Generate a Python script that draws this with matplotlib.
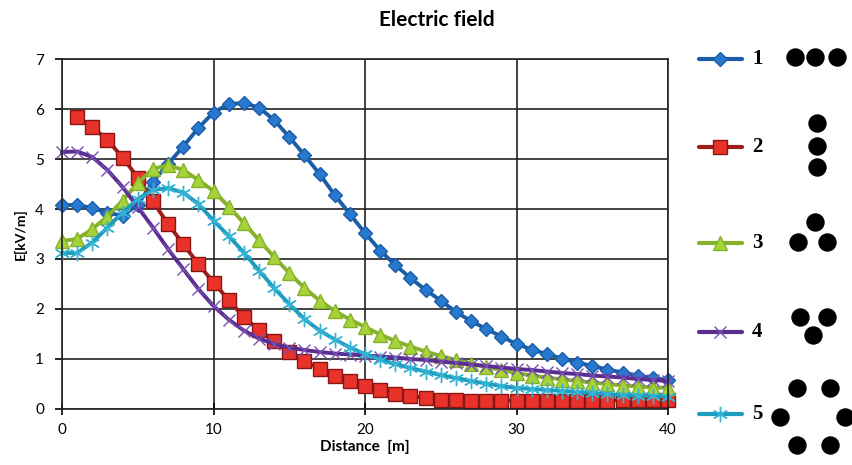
import numpy as np
import matplotlib
matplotlib.use("Agg")
import matplotlib.pyplot as plt

distance = list(range(0, 41))
distance_2 = list(range(1, 41))

series_1 = [4.08, 4.08, 4.02, 3.92, 3.87, 4.08, 4.55, 4.90, 5.25, 5.62, 5.93, 6.10, 6.12, 6.03,
            5.78, 5.44, 5.08, 4.70, 4.28, 3.90, 3.52, 3.17, 2.88, 2.62, 2.38, 2.17, 1.94, 1.76,
            1.60, 1.45, 1.30, 1.19, 1.10, 1.01, 0.93, 0.86, 0.79, 0.73, 0.67, 0.62, 0.58]
series_2 = [5.84, 5.64, 5.38, 5.03, 4.63, 4.15, 3.70, 3.30, 2.90, 2.53, 2.18, 1.84, 1.58,
            1.36, 1.14, 0.96, 0.81, 0.67, 0.56, 0.46, 0.38, 0.31, 0.26, 0.22, 0.19, 0.18, 0.17,
            0.17, 0.17, 0.17, 0.17, 0.17, 0.17, 0.17, 0.17, 0.17, 0.18, 0.18, 0.18, 0.18]
series_3 = [3.36, 3.40, 3.60, 3.85, 4.17, 4.52, 4.80, 4.88, 4.78, 4.58, 4.36, 4.05, 3.72, 3.38,
            3.04, 2.72, 2.42, 2.17, 1.96, 1.79, 1.64, 1.49, 1.36, 1.25, 1.15, 1.06, 0.98, 0.91,
            0.84, 0.78, 0.72, 0.67, 0.63, 0.59, 0.56, 0.53, 0.50, 0.47, 0.45, 0.43, 0.42]
series_4 = [5.14, 5.15, 5.04, 4.78, 4.44, 4.04, 3.63, 3.20, 2.80, 2.40, 2.06, 1.79, 1.57, 1.41,
            1.30, 1.23, 1.18, 1.14, 1.11, 1.09, 1.07, 1.05, 1.03, 1.00, 0.98, 0.95, 0.92, 0.89,
            0.86, 0.83, 0.80, 0.78, 0.75, 0.72, 0.70, 0.67, 0.65, 0.63, 0.60, 0.58, 0.56]
series_5 = [3.12, 3.12, 3.33, 3.63, 3.93, 4.20, 4.38, 4.42, 4.33, 4.10, 3.77, 3.46, 3.13, 2.77,
            2.42, 2.10, 1.80, 1.57, 1.39, 1.23, 1.10, 0.99, 0.90, 0.82, 0.75, 0.68, 0.62, 0.56,
            0.51, 0.46, 0.42, 0.40, 0.38, 0.36, 0.34, 0.32, 0.30, 0.28, 0.27, 0.26, 0.25]

labels = ["1", "2", "3", "4", "5"]
x_ticks = [0, 10, 20, 30, 40]
y_ticks = [0, 1, 2, 3, 4, 5, 6, 7]

# conductor arrangement diagrams (pixel positions in figure)
dots = [
    [(795, 57), (815, 57), (837, 57)],
    [(817, 123), (817, 146), (817, 167)],
    [(815, 222), (798, 242), (827, 242)],
    [(800, 317), (827, 317), (813, 335)],
    [(797, 388), (830, 388), (780, 417), (845, 417), (797, 445), (830, 445)],
]

plt.rcParams['font.family'] = ['Lato', 'DejaVu Sans']

W, H = 852, 465
fig = plt.figure(figsize=(W / 100, H / 100), dpi=100)
ax = fig.add_axes([62 / W, 1 - 409 / H, (668 - 62) / W, (409 - 59) / H])

styles = [
    dict(color="#1b5ea8", marker="D", markersize=7, markerfacecolor="#2878d0",
         markeredgecolor="#1b5ea8", lw=2.8),
    dict(color="#9e1c1c", marker="s", markersize=10, markerfacecolor="#e8322a",
         markeredgecolor="#8a1515", lw=2.8),
    dict(color="#86b22b", marker="^", markersize=10, markerfacecolor="#a6d33a",
         markeredgecolor="#86b22b", lw=2.8),
    dict(color="#5a2d91", marker="x", markersize=9, markeredgecolor="#7a4fb5",
         markeredgewidth=1.0, lw=2.8),
    dict(color="#1f9dbf", marker=(6, 2, 0), markersize=11, markeredgecolor="#35b4d6",
         markeredgewidth=1.0, lw=2.8),
]
xs = [distance, distance_2, distance, distance, distance]
ys = [series_1, series_2, series_3, series_4, series_5]
for x, y, st in zip(xs, ys, styles):
    ax.plot(x, y, **st, clip_on=False)

ax.set_xlim(0, 40)
ax.set_ylim(0, 7)
ax.set_xticks(x_ticks)
ax.set_yticks(y_ticks)
ax.grid(True, color="#222222", lw=1.2)
ax.set_axisbelow(True)
for s in ax.spines.values():
    s.set_color("#222222")
    s.set_linewidth(1.2)
ax.tick_params(axis="x", direction="inout", length=8, width=1.2, labelsize=11, pad=6)
ax.tick_params(axis="y", direction="out", length=5, width=1.2, labelsize=11, pad=8)
ax.set_xlabel("Distance  [m]", fontsize=11, fontweight="bold", labelpad=2)
ax.set_ylabel("E[kV/m]", fontsize=10, fontweight="bold", labelpad=6)

fig.text(437 / W, 1 - 20 / H, "Electric field", ha="center", va="center",
         fontsize=15, fontweight="bold")

# legend + arrangement diagrams in pixel overlay
ov = fig.add_axes([0, 0, 1, 1])
ov.set_xlim(0, W)
ov.set_ylim(H, 0)
ov.axis("off")
leg_y = [59, 147, 243, 332, 414]
for ly, st, lab in zip(leg_y, styles, labels):
    ov.plot([699, 742], [ly, ly], color=st["color"], lw=3, solid_capstyle="round")
    ms = dict(st)
    ms.pop("lw")
    ms.pop("color")
    ov.plot([720], [ly], linestyle="none", **ms)
    ov.text(752, ly, lab, fontsize=15, fontweight="bold", family="Liberation Serif",
            ha="left", va="center")
for grp in dots:
    ov.scatter([p[0] for p in grp], [p[1] for p in grp], s=150, color="black")

fig.savefig("out.png", dpi=100)
